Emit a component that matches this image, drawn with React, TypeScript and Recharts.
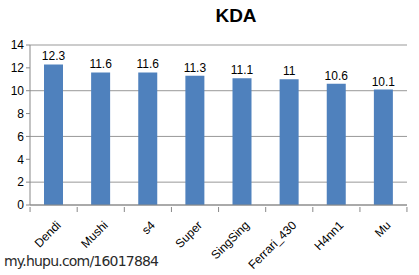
import React from "react";
import {
  BarChart,
  Bar,
  XAxis,
  YAxis,
  CartesianGrid,
  LabelList,
} from "recharts";

const players = ["Dendi", "Mushi", "s4", "Super", "SingSing", "Ferrari_430", "H4nn1", "Mu"];
const kda = [12.3, 11.6, 11.6, 11.3, 11.1, 11, 10.6, 10.1];
const yTicks = [0, 2, 4, 6, 8, 10, 12, 14];

const data = players.map((name, i) => ({ name, kda: kda[i] }));

const FONT = "'Liberation Sans', Arial, sans-serif";
const BAND = 47; // category width, used for the between-category tick marks

const PlayerTick = (props: any) => {
  const { x, y, payload, index } = props;
  const tx = x + 8;
  const ty = y + 13;
  return (
    <g>
      <line x1={x - BAND / 2} y1={y - 6} x2={x - BAND / 2} y2={y - 1} stroke="#888" />
      {index === players.length - 1 && (
        <line x1={x + BAND / 2} y1={y - 6} x2={x + BAND / 2} y2={y - 1} stroke="#888" />
      )}
      <text
        x={tx}
        y={ty}
        textAnchor="end"
        fontSize={12}
        fontFamily={FONT}
        fill="#000"
        transform={`rotate(-45, ${tx}, ${ty})`}
      >
        {payload.value}
      </text>
    </g>
  );
};

export default function App() {
  return (
    <div style={{ position: "fixed", left: 0, top: 0, width: 419, height: 275, background: "#fff" }}>
      <div
        style={{
          position: "absolute",
          left: 196,
          top: 5,
          width: 80,
          textAlign: "center",
          fontFamily: FONT,
          fontWeight: "bold",
          fontSize: 19,
          color: "#000",
        }}
      >
        KDA
      </div>
      <BarChart
        width={419}
        height={275}
        data={data}
        margin={{ top: 45, right: 12, bottom: 10, left: 0 }}
      >
        <CartesianGrid vertical={false} stroke="#999" />
        <XAxis
          dataKey="name"
          axisLine={{ stroke: "#888" }}
          tickLine={false}
          interval={0}
          height={60}
          tick={<PlayerTick />}
        />
        <YAxis
          domain={[0, 14]}
          ticks={yTicks}
          width={30}
          axisLine={{ stroke: "#888" }}
          tickLine={{ stroke: "#888" }}
          tickSize={4}
          tick={{ fontSize: 12, fontFamily: FONT, fill: "#000" }}
        />
        <Bar dataKey="kda" fill="#4f81bd" barSize={19} isAnimationActive={false}>
          <LabelList
            dataKey="kda"
            position="top"
            offset={4}
            style={{ fontSize: 12, fontFamily: FONT, fill: "#000" }}
          />
        </Bar>
      </BarChart>
      <div
        style={{
          position: "absolute",
          left: 4,
          top: 253,
          fontFamily: "'DejaVu Sans', sans-serif",
          fontSize: 14,
          color: "#2a2a2a",
          letterSpacing: -0.8,
        }}
      >
        my.hupu.com/16017884
      </div>
    </div>
  );
}
